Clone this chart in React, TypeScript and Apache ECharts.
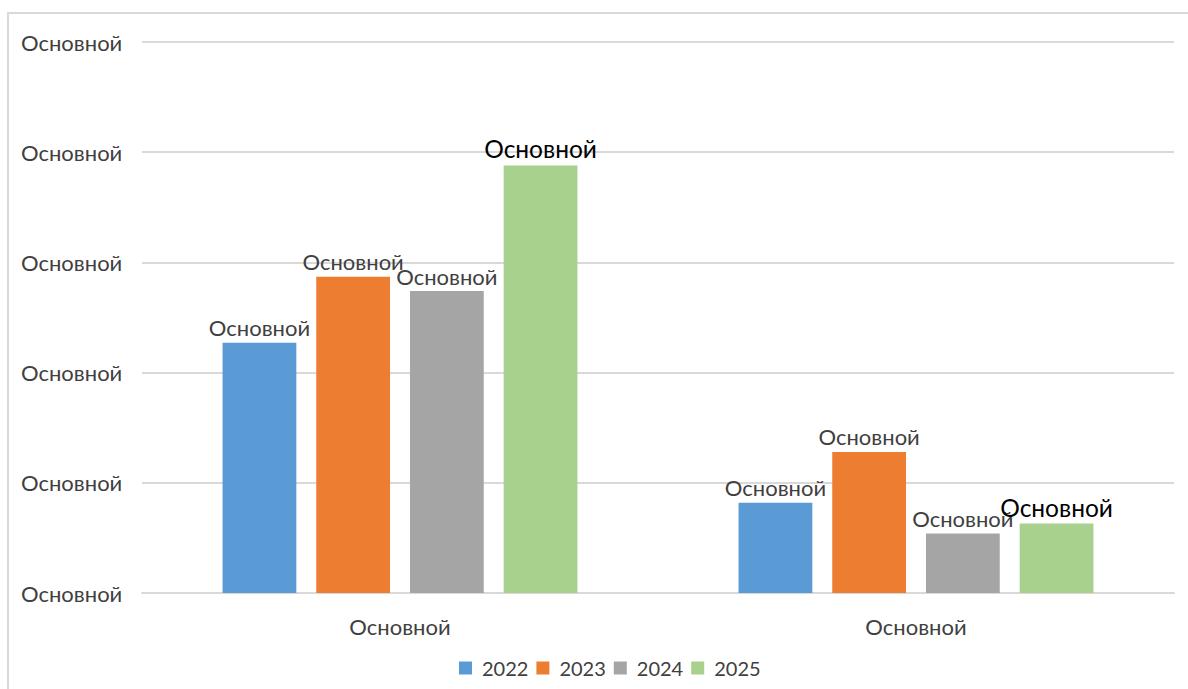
import React, { useEffect, useRef } from "react";
import * as echarts from "echarts";

const categories = ["Основной", "Основной"];
const seriesNames = ["2022", "2023", "2024", "2025"];
const values2022 = [2.27, 0.82];
const values2023 = [2.87, 1.28];
const values2024 = [2.74, 0.54];
const values2025 = [3.88, 0.63];
const yTickLabel = "Основной";
const dataLabel = "Основной";
const colors = ["#5B9BD5", "#ED7D31", "#A5A5A5", "#A9D18E"];

export default function App() {
  const ref = useRef<HTMLDivElement>(null);
  useEffect(() => {
    if (!ref.current) return;
    const chart = echarts.init(ref.current, null, { renderer: "svg" });
    const font = "Lato, 'Noto Sans', sans-serif";
    const seriesData = [values2022, values2023, values2024, values2025];
    chart.setOption({
      animation: false,
      backgroundColor: "#ffffff",
      color: colors,
      textStyle: { fontFamily: font },
      graphic: [
        {
          type: "rect",
          shape: { x: 8, y: 13, width: 1200, height: 700 },
          style: { fill: "none", stroke: "#d9d9d9", lineWidth: 2 },
          silent: true,
        },
      ],
      grid: { left: 142, right: 14, top: 42, bottom: 96, containLabel: false },
      legend: {
        bottom: 6,
        left: 454,
        itemWidth: 13,
        itemHeight: 13,
        itemGap: 8,
        icon: "rect",
        textStyle: { fontSize: 20, color: "#404040", fontFamily: font, padding: [0, 0, 0, 5] },
        data: seriesNames,
      },
      xAxis: {
        type: "category",
        data: categories,
        axisLine: { lineStyle: { color: "#d9d9d9", width: 2 } },
        axisTick: { show: false },
        axisLabel: { fontSize: 22, color: "#404040", margin: 22, fontFamily: font },
      },
      yAxis: {
        type: "value",
        min: 0,
        max: 5,
        interval: 1,
        axisLine: { show: false },
        axisTick: { show: false },
        splitLine: { lineStyle: { color: "#d9d9d9", width: 2 } },
        axisLabel: {
          formatter: () => yTickLabel,
          align: "left",
          margin: 121,
          fontSize: 22,
          color: "#404040",
          fontFamily: font,
          padding: [0, 0, 3, 0],
        },
      },
      series: seriesNames.map((name, i) => ({
        name,
        type: "bar",
        data: seriesData[i],
        barWidth: "14.3%",
        barGap: "27%",
        label: {
          show: true,
          position: "top",
          distance: 4,
          formatter: () => dataLabel,
          fontSize: i === 3 ? 24.5 : 22,
          color: i === 3 ? "#000000" : "#404040",
          fontFamily: font,
        },
      })),
    });
    return () => chart.dispose();
  }, []);
  return (
    <div
      ref={ref}
      style={{ position: "absolute", left: 0, top: 0, width: 1188, height: 689 }}
    />
  );
}
